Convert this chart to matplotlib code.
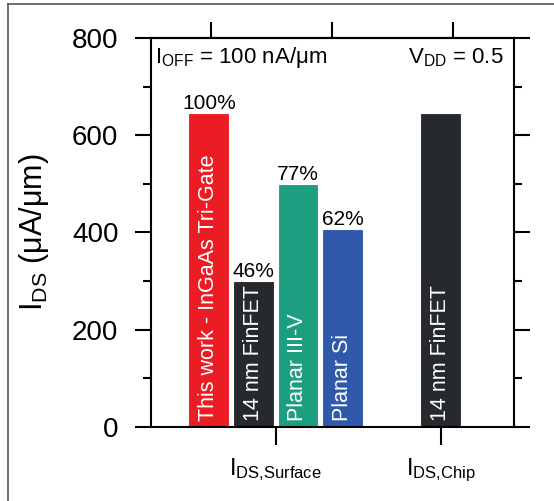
import matplotlib

matplotlib.use("Agg")
import matplotlib.pyplot as plt  # noqa: E402
from matplotlib.lines import Line2D  # noqa: E402
from matplotlib.ticker import MultipleLocator  # noqa: E402

plt.rcParams["font.family"] = ["Liberation Sans", "DejaVu Sans"]
plt.rcParams["mathtext.fontset"] = "custom"
plt.rcParams["mathtext.rm"] = "Liberation Sans"
plt.rcParams["mathtext.it"] = "Liberation Sans:italic"
plt.rcParams["mathtext.bf"] = "Liberation Sans:bold"

# bar data (I_DS in uA/um)
positions = [0, 1, 2, 3, 5.2]
values = [645, 300, 500, 408, 645]
names = ["This work - InGaAs Tri-Gate", "14 nm FinFET", "Planar III-V",
         "Planar Si", "14 nm FinFET"]
percents = ["100%", "46%", "77%", "62%", None]
colors = ["#EC1C24", "#26292E", "#1E9E80", "#2F5AAB", "#26292E"]

group_ticks = [1.5, 5.2]
group_labels = [r"I$_\mathrm{DS{,}Surface}$", r"I$_\mathrm{DS{,}Chip}$"]
top_ticks = [0.05, 2.76, 5.48]

fig = plt.figure(figsize=(5.54, 5.01), dpi=100)
ax = fig.add_axes([0.2726, 0.1477, 0.6552, 0.7765])

ax.bar(positions, values, width=0.92, color=colors, edgecolor="white", linewidth=0.8, zorder=2)
for x, v, name, pct in zip(positions, values, names, percents):
    ax.text(x, 12, name, rotation=90, ha="center", va="bottom", color="white", fontsize=15.5, zorder=3)
    if pct:
        ax.text(x, v, pct, ha="center", va="bottom", fontsize=15, zorder=3)

ax.set_xlim(-1.30, 6.85)
ax.set_ylim(0, 800)
ax.yaxis.set_major_locator(MultipleLocator(200))
ax.yaxis.set_minor_locator(MultipleLocator(100))
ax.set_xticks(group_ticks)
ax.set_xticklabels(group_labels, fontsize=17)
ax.tick_params(axis="y", which="major", direction="out", length=11.5, width=1.5,
               labelsize=20, pad=12, right=True)
ax.tick_params(axis="y", which="minor", direction="out", length=5.8, width=1.5, right=True)
ax.tick_params(axis="x", which="major", direction="out", length=13, width=1.5, pad=8)
for s in ax.spines.values():
    s.set_linewidth(1.5)

top = ax.secondary_xaxis("top")
top.set_xticks(top_ticks)
top.set_xticklabels([])
top.tick_params(direction="out", length=11.5, width=1.5)
top.spines["top"].set_linewidth(1.5)

ax.set_ylabel(r"I$_\mathrm{DS}$ (μA/μm)", fontsize=22)
ax.yaxis.set_label_coords(-0.275, 0.5)

ax.text(0.012, 0.95, r"I$_\mathrm{OFF}$ = 100 nA/μm", transform=ax.transAxes,
        ha="left", va="center", fontsize=16)
ax.text(0.97, 0.95, r"V$_\mathrm{DD}$ = 0.5", transform=ax.transAxes,
        ha="right", va="center", fontsize=16)

# frame lines of the source figure (left and top edges)
fig.add_artist(Line2D([8 / 554, 8 / 554], [0, 1 - 4 / 501], color="#555555", lw=1.2))
fig.add_artist(Line2D([8 / 554, 1], [1 - 4 / 501, 1 - 4 / 501], color="#555555", lw=1.2))

fig.savefig("out.png", dpi=100)
